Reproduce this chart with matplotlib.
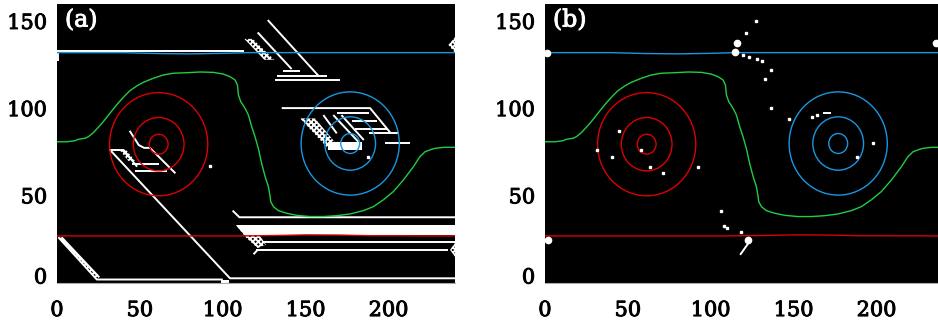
import matplotlib
matplotlib.use("Agg")
import matplotlib.pyplot as plt
from matplotlib.patches import Polygon, Circle
from matplotlib.transforms import ScaledTranslation
import matplotlib.patheffects as pe

plt.rcParams['font.family'] = ['DejaVu Serif']
plt.rcParams['hatch.color'] = 'white'
plt.rcParams['hatch.linewidth'] = 1.4

# ---------------- data ----------------
x_ticks = [0, 50, 100, 150, 200]
y_ticks = [0, 50, 100, 150]
panel_labels = ["(a)", "(b)"]

# green interface contour
green_x = [0, 5.9, 10.9, 12.8, 16.9, 18.9, 21.9, 24.9, 27.9, 31.9, 35.9, 40.0, 44.0,
           48.1, 52.1, 58.1, 64.1, 70.2, 78.2, 86.2, 94.3, 100.3, 104.4, 107.4, 108.8,
           109.4, 110.8, 113.4, 115.4, 117.4, 119.4, 121.4, 123.4, 125.5, 127.5, 128.5,
           128.9, 130.5, 133.5, 138.5, 144.6, 152.6, 160.6, 168.7, 176.7, 184.8, 190.8,
           196.8, 202.8, 208.9, 214.9, 218.9, 222.0, 226.0, 227.9, 233.0, 240]
green_y = [81.0, 81.0, 81.6, 82.4, 83.0, 83.9, 86.2, 89.3, 92.5, 97.3, 102.1, 106.5,
           110.3, 113.0, 115.1, 117.4, 119.3, 120.3, 120.6, 121.0, 120.8, 119.8, 118.3,
           116.4, 113.6, 107.8, 104.0, 100.2, 96.4, 89.7, 83.9, 77.2, 68.6, 61.0, 55.2,
           49.5, 46.6, 43.8, 41.5, 40.0, 38.8, 38.1, 38.1, 38.6, 39.6, 41.5, 43.8, 47.7,
           52.4, 59.1, 66.7, 72.5, 75.3, 76.7, 77.2, 77.8, 77.8]

# horizontal contours
blue_line_x = [0, 40, 60, 80, 100, 115, 140, 240]
blue_line_y = [132.1, 132.1, 131.6, 131.4, 131.7, 132.1, 132.1, 132.1]
red_line_x = [0, 110, 130, 150, 170, 190, 240]
red_line_y = [27.0, 27.0, 27.2, 27.6, 27.5, 27.1, 27.0]

# vortex contours (circles)
red_center = (61.3, 79.6)
blue_center = (176.8, 80.0)
vortex_radii = [5.7, 15.3, 29.6]

# panel (a) white structures: polylines
a_lines = [
    ([0, 113], [133.3, 133.3]),
    ([0.7, 0.7], [127.5, 132.5]),
    ([32, 104.3, 240], [76.3, 2.7, 2.7]),
    ([31.2, 40.2], [76.3, 76.3]),
    ([40.2, 48.3], [76.3, 66.7]),
    ([0.8, 24, 100], [26.2, 2.0, 2.0]),
    ([2.8, 25.5], [26.2, 3.3]),
    ([43.8, 49.3, 52.5, 56, 71.4], [87.3, 79.1, 77.5, 77.5, 62.9]),
    ([45.2, 61.3], [68.2, 68.2]),
    ([47.2, 66.3], [64.4, 64.4]),
    ([127.1, 157.6], [150.8, 118.9]),
    ([121, 141.5], [143.7, 122.7]),
    ([136.5, 146.6], [121.6, 121.6]),
    ([132.5, 162.7], [118.5, 118.5]),
    ([131.5, 170.7], [116.4, 116.4]),
    ([135.5, 188.8, 200.9], [100.3, 100.3, 86.3]),
    ([168.7, 188.4], [97.3, 97.3]),
    ([177.7, 192.8], [92.7, 92.7]),
    ([179.7, 198.9], [88.3, 88.3]),
    ([188, 206], [85.8, 85.8]),
    ([197.8, 213], [80.4, 80.4]),
    ([160.6, 168.7], [96.3, 85.8]),
    ([166.6, 181.7], [96.3, 81]),
    ([171.5, 185], [96.3, 82]),
    ([105.9, 110, 240], [41.5, 37.7, 37.7]),
    ([124.4, 240], [23.7, 23.7]),
    ([120.3, 236], [18.9, 18.9]),
    ([118.5, 121], [16.5, 19]),
]
a_dots_x = [92.1, 187.8]
a_dots_y = [67.1, 72.4]
a_solid = [
    ([108, 240, 240, 114], [33.3, 33.3, 27.8, 27.8]),
    ([163.6, 183.8, 183.8, 163.6], [81, 81, 76.3, 76.3]),
    ([98.6, 103.6, 103.6, 98.6], [0, 0, 1.6, 1.6]),
]
a_hatched = [
    ([113, 118, 131, 125], [140, 140, 128, 128]),
    ([236, 240, 240], [136.5, 141, 132]),
    ([38, 42, 47, 43], [76, 76, 70, 70]),
    ([146.6, 155.6, 170.7, 163.4], [94.4, 94.4, 77.2, 77.2]),
    ([108, 118, 126, 121, 114], [33, 33, 22, 20, 26]),
    ([0.8, 3.5, 25.5, 23], [26, 26, 3, 3]),
    ([237, 240, 240], [19, 23, 15]),
]

# panel (b) scattered white points
b_dots_x = [127.1, 121.2, 119.6, 123.2, 127.7, 130.7, 136.3, 132.7, 136.3, 147.2,
            161.2, 163.8, 197.6, 188, 44.6, 31.2, 40.6, 57.7, 63.3, 71, 92.1, 106,
            108, 110, 118]
b_dots_y = [150.4, 143.5, 130.7, 129.4, 128.4, 127.5, 122.1, 116.8, 100.5, 93.9,
            95.4, 96.3, 80.5, 72.4, 87.2, 76.3, 72.4, 76.3, 66.7, 62.9, 66.7, 41.5,
            32.7, 31.7, 29.4]
b_blob_x = [115.6, 114.6, 122.6, 2.0, 1.4, 235.8, 239.5]
b_blob_y = [137.4, 132.6, 24.7, 24.7, 132.0, 137.4, 18.9]
b_lines = [
    ([168, 172], [97.7, 97.7]),
    ([122.6, 118], [22.8, 16.6]),
]

# ---------------- plotting ----------------
RED = '#dc0000'
BLUE = '#1a96e0'
GREEN = '#22cc44'

fig = plt.figure(figsize=(9.38, 3.24), dpi=100)
ax_a = fig.add_axes([57 / 938, 1 - 283 / 324, 398 / 938, 279 / 324])
ax_b = fig.add_axes([545 / 938, 1 - 283 / 324, 398 / 938, 279 / 324])

thick = [pe.withStroke(linewidth=0.7, foreground='black')]
thick_w = [pe.withStroke(linewidth=0.7, foreground='white')]


def draw_common(ax, label):
    ax.set_facecolor('black')
    ax.set_xlim(0, 240)
    ax.set_ylim(0, 160)
    ax.plot(green_x, green_y, color=GREEN, lw=1.0, zorder=3)
    ax.plot(blue_line_x, blue_line_y, color=BLUE, lw=1.0, zorder=3)
    ax.plot(red_line_x, red_line_y, color=RED, lw=1.0, zorder=3)
    for r in vortex_radii:
        ax.add_patch(Circle(red_center, r, fill=False, ec=RED, lw=1.0, zorder=3))
        ax.add_patch(Circle(blue_center, r, fill=False, ec=BLUE, lw=1.0, zorder=3))
    ax.set_xticks(x_ticks)
    ax.set_yticks(y_ticks)
    ax.tick_params(length=0, labelsize=15, colors='black')
    ax.tick_params(axis='x', pad=13)
    ax.tick_params(axis='y', pad=7)
    for lab in ax.get_xticklabels() + ax.get_yticklabels():
        lab.set_path_effects(thick)
    zero_lab = ax.get_yticklabels()[0]
    zero_lab.set_transform(zero_lab.get_transform() +
                           ScaledTranslation(0, 0.07, fig.dpi_scale_trans))
    for s in ['top', 'right', 'left']:
        ax.spines[s].set_visible(False)
    ax.spines['bottom'].set_color('#aaaaaa')
    ax.spines['bottom'].set_linewidth(0.8)
    ax.text(4.8, 150.8, label, color='white', fontsize=17, ha='left',
            va='center', zorder=6, path_effects=thick_w)


draw_common(ax_a, panel_labels[0])
draw_common(ax_b, panel_labels[1])

# panel (a) white artifacts
for xs, ys in a_lines:
    ax_a.plot(xs, ys, color='white', lw=1.4, solid_capstyle='butt', zorder=2)
ax_a.plot(a_dots_x, a_dots_y, 's', color='white', ms=1.6, zorder=2)
for xs, ys in a_solid:
    ax_a.add_patch(Polygon(list(zip(xs, ys)), closed=True, fc='white', ec='none', zorder=2))
for xs, ys in a_hatched:
    ax_a.add_patch(Polygon(list(zip(xs, ys)), closed=True, fc='none', ec='white',
                           lw=0, hatch='xxxxxx', zorder=2))

# panel (b) white points
ax_b.plot(b_dots_x, b_dots_y, 's', color='white', ms=1.6, zorder=4)
ax_b.plot(b_blob_x, b_blob_y, 'o', color='white', ms=4.5, zorder=4)
for xs, ys in b_lines:
    ax_b.plot(xs, ys, color='white', lw=1.4, zorder=4)

fig.savefig('out.png', dpi=100, facecolor='white')
